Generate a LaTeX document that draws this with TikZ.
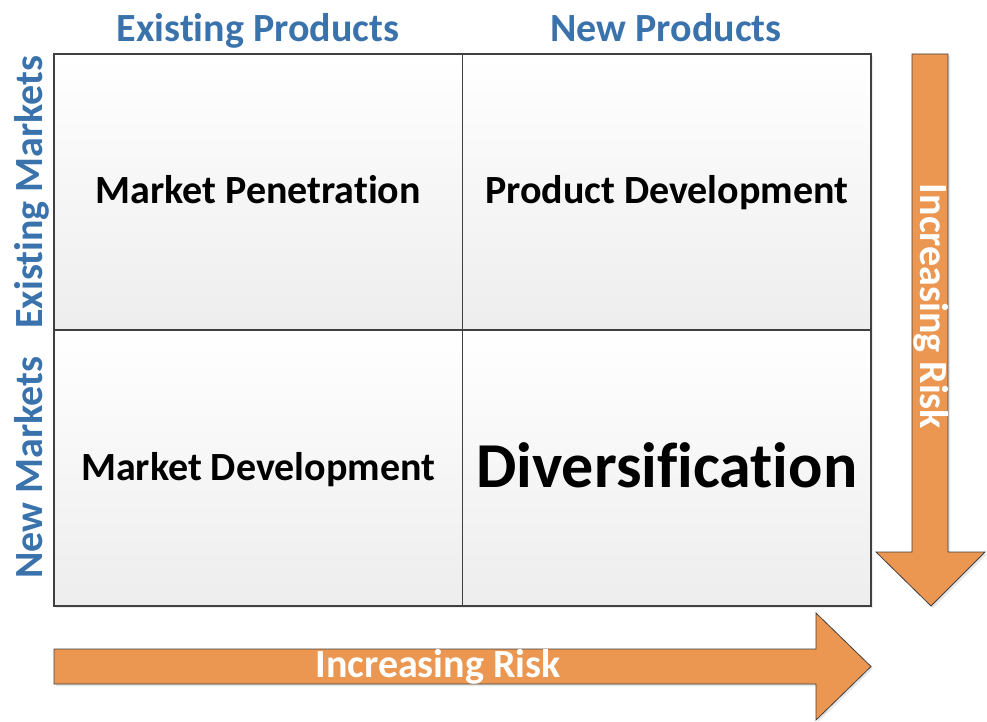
\documentclass[tikz,border=0pt]{standalone}
\usepackage{fontspec}
\setmainfont{Carlito}[Ligatures=NoCommon]
\usepackage{tikz}
\usetikzlibrary{positioning,shadows}
\definecolor{axisblue}{HTML}{3A72AC}
\definecolor{riskorange}{HTML}{EB9752}
\definecolor{cellline}{HTML}{404040}
\tikzset{
    cell/.style={rectangle,draw=cellline,line width=1.1pt,minimum width=408.5,minimum height=276,
        inner sep=0pt,outer sep=0pt,top color=white,bottom color=black!7,
        text height=24pt,text depth=0pt,
        drop shadow={opacity=0.15,shadow xshift=2pt,shadow yshift=-2pt},
        font=\fontsize{40}{44}\selectfont\bfseries},
    bigcell/.style={cell,text height=38pt,font=\fontsize{64}{70}\selectfont\bfseries},
    header/.style={anchor=base,text=axisblue,font=\fontsize{40}{44}\selectfont\bfseries},
    sidelabel/.style={header,rotate=90},
    riskarrow/.style={draw=cellline,line width=0.8pt,fill=riskorange,line join=miter,
        drop shadow={opacity=0.2,shadow xshift=2pt,shadow yshift=-2pt}},
    risklabel/.style={text=white,font=\fontsize{40}{44}\selectfont\bfseries},
}
\begin{document}
\begin{tikzpicture}[x=1pt,y=-1pt]
	\useasboundingbox (0,0) rectangle (987,722);

	% the four cells
	\node[cell] (mp) at (258.25,192) {Market Penetration};
	\node[cell,right=0pt of mp] (pd) {Product Development};
	\node[cell,below=0pt of mp] (md) {Market Development};
	\node[bigcell,below=0pt of pd] (dv) {Diversification};

	% axis headings
	\node[header] (ep) at (258,42) {Existing Products};
	\node[header] (np) at (666,42) {New Products};
	\node[sidelabel] (em) at (42,192) {Existing Markets};
	\node[sidelabel] (nm) at (42,467.5) {New Markets};

	% risk arrows
	\draw[riskarrow] (912,54) -- (948,54) -- (948,552) -- (985,552) -- (931,606)
		-- (876,552) -- (912,552) -- cycle;
	\draw[riskarrow] (54,649) -- (816,649) -- (816,613) -- (871,666.5) -- (816,720)
		-- (816,684) -- (54,684) -- cycle;
	\node[risklabel,rotate=-90] (vr) at (931,306.5) {Increasing Risk};
	\node[risklabel] (hr) at (438,667) {Increasing Risk};
\end{tikzpicture}
\end{document}
